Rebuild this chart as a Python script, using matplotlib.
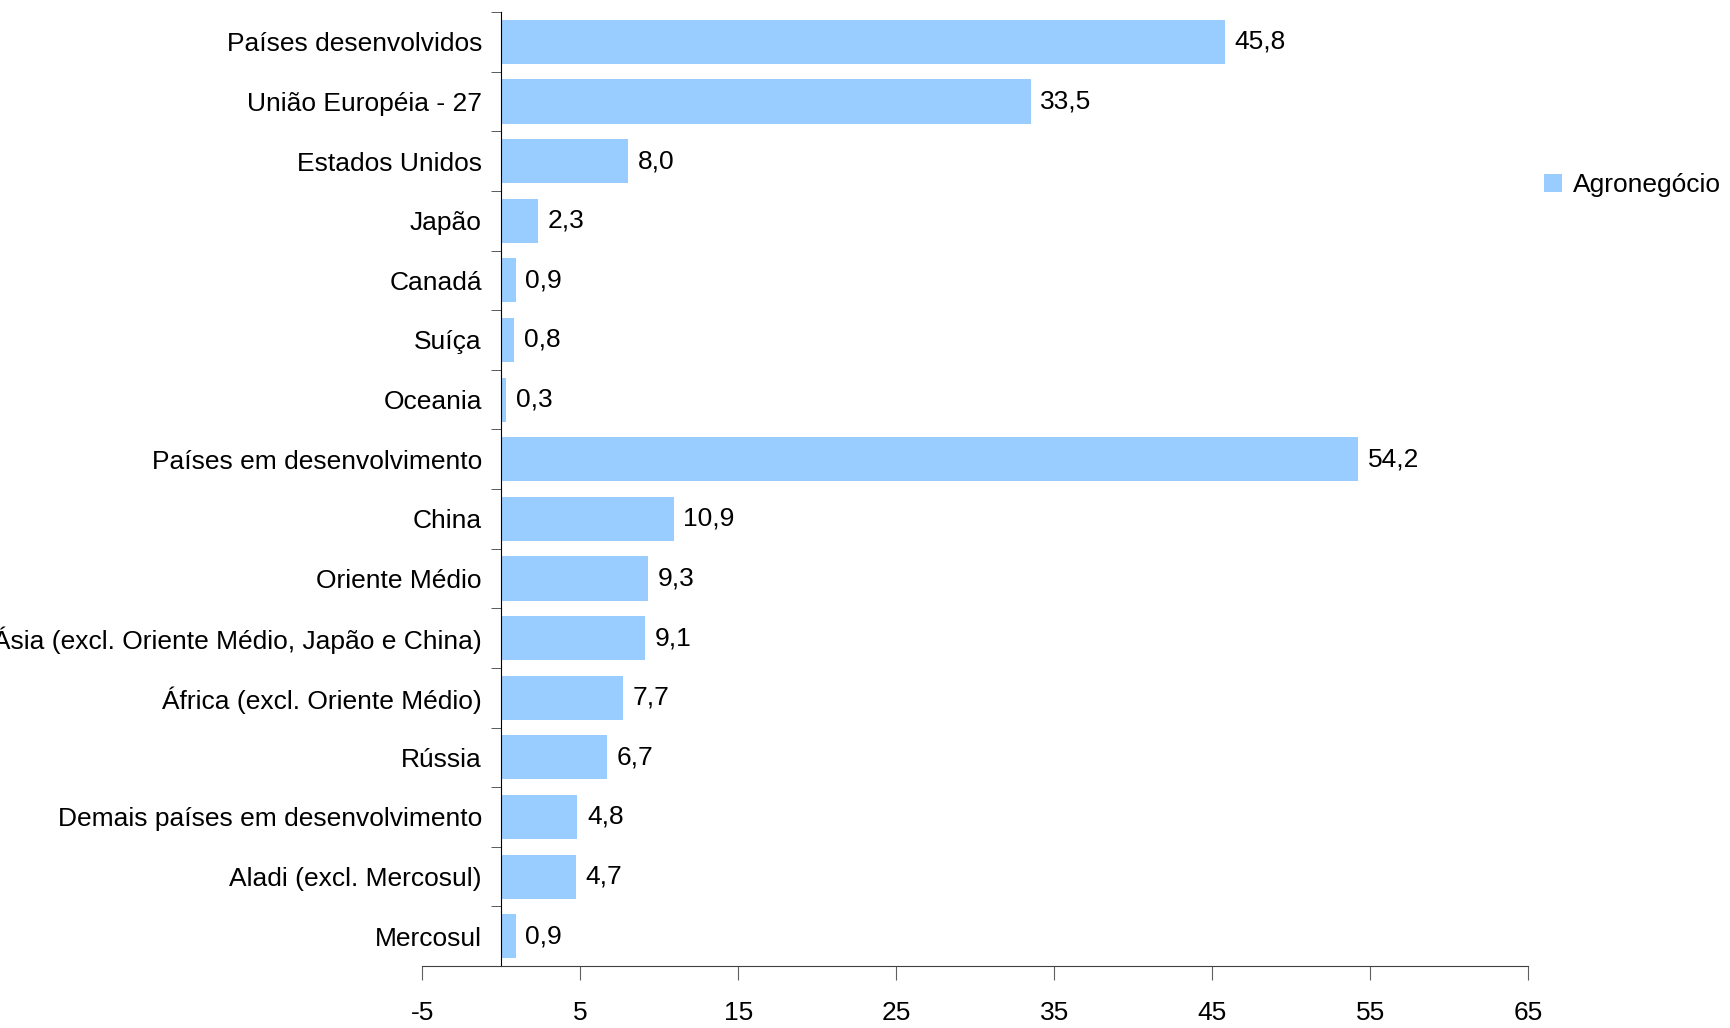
import matplotlib.pyplot as plt
import numpy as np

# Categories top to bottom and their values
categories = [
    "Países desenvolvidos",
    "União Européia - 27",
    "Estados Unidos",
    "Japão",
    "Canadá",
    "Suíça",
    "Oceania",
    "Países em desenvolvimento",
    "China",
    "Oriente Médio",
    "Ásia (excl. Oriente Médio, Japão e China)",
    "África (excl. Oriente Médio)",
    "Rússia",
    "Demais países em desenvolvimento",
    "Aladi (excl. Mercosul)",
    "Mercosul",
]
agronegocio = [45.8, 33.5, 8.0, 2.3, 0.9, 0.8, 0.3, 54.2,
               10.9, 9.3, 9.1, 7.7, 6.7, 4.8, 4.7, 0.9]
x_ticks = [-5, 5, 15, 25, 35, 45, 55, 65]

BAR_COLOR = "#99CCFF"
FONT_SIZE = 19

plt.rcParams["font.family"] = ["Liberation Sans", "DejaVu Sans"]

fig = plt.figure(figsize=(17.31, 10.28), dpi=100)
ax = fig.add_axes([0.244, 0.0603, 0.639, 0.928])

y = np.arange(len(categories))
bars = ax.barh(y, agronegocio, height=0.74, color=BAR_COLOR, label="Agronegócio")

# value labels with comma decimal separator
for rect, val in zip(bars, agronegocio):
    ax.annotate("{:.1f}".format(val).replace(".", ","),
                xy=(rect.get_width(), rect.get_y() + rect.get_height() / 2),
                xytext=(7, 0), textcoords="offset points",
                ha="left", va="center", fontsize=FONT_SIZE)

ax.set_xlim(-5, 65)
ax.set_ylim(len(categories) - 0.5, -0.5)

# y axis sits at x = 0
ax.spines["left"].set_position(("data", 0))
ax.spines["right"].set_visible(False)
ax.spines["top"].set_visible(False)
ax.spines["left"].set_color("black")
ax.spines["bottom"].set_color("#404040")

ax.set_yticks(y)
ax.set_yticklabels(categories, fontsize=FONT_SIZE)
ax.tick_params(axis="y", which="major", length=0, pad=14)
ax.set_yticks(np.arange(-0.5, len(categories)), minor=True)
ax.tick_params(axis="y", which="minor", length=7, direction="out", color="#404040")

ax.set_xticks(x_ticks)
ax.set_xticklabels([str(t) for t in x_ticks], fontsize=FONT_SIZE)
ax.tick_params(axis="x", length=10, direction="out", color="#606060", pad=15)

fig.legend(handles=[bars], labels=["Agronegócio"], loc="center left",
           bbox_to_anchor=(0.878, 0.82), frameon=False, fontsize=FONT_SIZE,
           handlelength=0.7, handleheight=0.7, handletextpad=0.4)

plt.savefig("out.png", dpi=100)
